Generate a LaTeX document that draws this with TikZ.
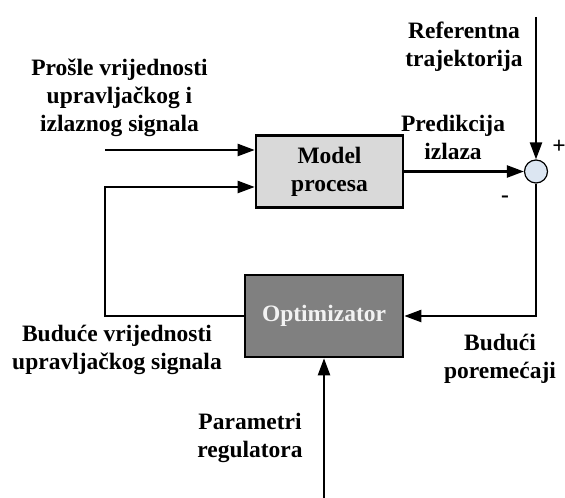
\documentclass[tikz,border=0pt]{standalone}
\usepackage{fontspec}
\setmainfont{Liberation Serif}
\usetikzlibrary{arrows.meta}
\definecolor{modelgray}{RGB}{217,217,217}
\definecolor{optgray}{RGB}{128,128,128}
\definecolor{sumblue}{RGB}{220,230,242}

\begin{document}
\begin{tikzpicture}[x=1pt,y=1pt,>={Triangle[length=17pt,width=12pt]},
    block/.style={draw,line width=2.6pt,font=\fontsize{23.5}{28}\selectfont\bfseries,align=center,inner sep=0pt},
    lbl/.style={font=\fontsize{23.5}{28}\selectfont\bfseries,align=center},
    line/.style={line width=2.3pt}]
      \useasboundingbox (0,0) rectangle (565,498);
      \node[block,fill=modelgray,minimum width=147pt,minimum height=72pt] (1) at (329.5,326.5) {Model\\procesa};
      \node[draw,circle,fill=sumblue,line width=1.2pt,inner sep=0pt,minimum size=23pt,node distance=206.5pt,right of=1] (2) {};
      \node[block,fill=optgray,text=white!95!black,minimum width=158pt,minimum height=82pt,node distance=144.5pt,below of=1,xshift=-5.5pt] (3) {Optimizator};

      \coordinate (a) at (105,348);
      \coordinate (b) at (105,311);
      \coordinate (r) at (536,481);
      \coordinate (p) at (324,0);

      \draw[line,->] (a) -- (a -| 1.west);
      \draw[line,->] (3.west) -| (b) -- (b -| 1.west);
      \draw[line,->] (1.east) -- (2.west);
      \draw[line,->] (r) -- (2.north);
      \draw[line,->] (2.south) |- (3.east);
      \draw[line,->] (p) -- (3.south);

      \node[lbl] (4) at (119.5,400.5) {Prošle vrijednosti\\upravljačkog i\\izlaznog signala};
      \node[lbl] (5) at (464,451.5) {Referentna\\trajektorija};
      \node[lbl] (6) at (453,361) {Predikcija\\izlaza};
      \node[lbl] (7) at (117,148.5) {Buduće vrijednosti\\upravljačkog signala};
      \node[lbl] (8) at (500,139) {Budući\\poremećaji};
      \node[lbl] (9) at (250,60.5) {Parametri\\regulatora};
      \node[lbl] (10) at (559,351) {+};
      \node[lbl] (11) at (505,299) {-};
    \end{tikzpicture}
\end{document}
